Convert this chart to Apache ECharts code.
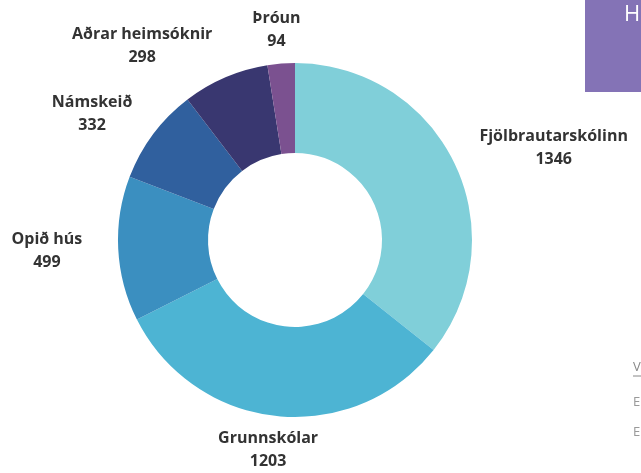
<!DOCTYPE html>
<html>
<head>
<meta charset="utf-8">
<script src="https://cdn.jsdelivr.net/npm/echarts@6/dist/echarts.min.js"></script>
<style>
  html, body { margin: 0; padding: 0; background: #fff; }
  #chart { width: 641px; height: 473px; }
</style>
</head>
<body>
<div id="chart"></div>
<script>
// gögn
const categories = ['Fjölbrautarskólinn', 'Grunnskólar', 'Opið hús', 'Námskeið', 'Aðrar heimsóknir', 'Þróun'];
const values = [1346, 1203, 499, 332, 298, 94];
const colors = ['#80cfd9', '#4db4d3', '#3b8fc0', '#30609e', '#393770', '#7b5190'];

const cx = 295, cy = 240;      // miðja hrings
const rOuter = 177, rInner = 87;
const labelRx = 213, labelRy = 188;   // fjarlægð merkja (lárétt / lóðrétt)
const labelFont = 'bold 16px "Open Sans"';
const lineH = 23;
const minGap = 40;             // lágmarksbil milli merkja í sömu röð

const total = values.reduce((a, b) => a + b, 0);

// reikna staðsetningu merkja út frá miðhorni sneiðar
const ctx = document.createElement('canvas').getContext('2d');
ctx.font = labelFont;
const boxes = [];
let acc = 0;
values.forEach((v, i) => {
  const a = (acc + v / 2) / total * Math.PI * 2;
  acc += v;
  const dx = Math.sin(a), dy = -Math.cos(a);
  const w = Math.max(ctx.measureText(categories[i]).width, ctx.measureText(String(v)).width);
  const h = lineH * 2;
  boxes.push({
    x: cx + dx * labelRx + dx * w / 2,
    y: cy + dy * labelRy + dy * h / 2,
    w: w, h: h, left: dx < 0
  });
});
// ýta merkjum til vinstri ef þau skarast (vinstri hlið)
for (let i = boxes.length - 2; i >= 0; i--) {
  const b = boxes[i], n = boxes[i + 1];
  if (!b.left || !n.left) continue;
  if (Math.abs(b.y - n.y) < (b.h + n.h) / 2 - 10) {
    const maxRight = n.x - n.w / 2 - minGap;
    if (b.x + b.w / 2 > maxRight) b.x = maxRight - b.w / 2;
  }
}

const chart = echarts.init(document.getElementById('chart'));

chart.setOption({
  animation: false,
  color: colors,
  graphic: [
    { type: 'rect', left: 585, top: 0, shape: { width: 60, height: 92 }, style: { fill: '#8473b6' } },
    { type: 'text', left: 624, top: 4, style: { text: 'H', fill: '#fff', font: '22px "Open Sans"' } },
    { type: 'text', left: 633, top: 361, style: { text: 'V', fill: '#888', font: '13px "Open Sans"' } },
    { type: 'line', shape: { x1: 633, y1: 376, x2: 641, y2: 376 }, style: { stroke: '#888', lineWidth: 1 } },
    { type: 'text', left: 633, top: 396, style: { text: 'E', fill: '#999', font: '13px "Open Sans"' } },
    { type: 'text', left: 633, top: 426, style: { text: 'E', fill: '#999', font: '13px "Open Sans"' } }
  ],
  series: [{
    type: 'pie',
    center: [cx, cy],
    radius: [rInner, rOuter],
    startAngle: 90,
    clockwise: true,
    avoidLabelOverlap: false,
    itemStyle: { borderWidth: 0 },
    label: {
      show: true,
      position: 'outside',
      formatter: '{b}\n{c}',
      color: '#333',
      fontFamily: 'Open Sans',
      fontWeight: 'bold',
      fontSize: 16,
      lineHeight: lineH,
      align: 'center'
    },
    labelLine: { show: false },
    labelLayout: function (params) {
      const b = boxes[params.dataIndex];
      return { x: b.x, y: b.y, align: 'center', verticalAlign: 'middle' };
    },
    data: categories.map((name, i) => ({ name: name, value: values[i] }))
  }]
});
</script>
</body>
</html>
